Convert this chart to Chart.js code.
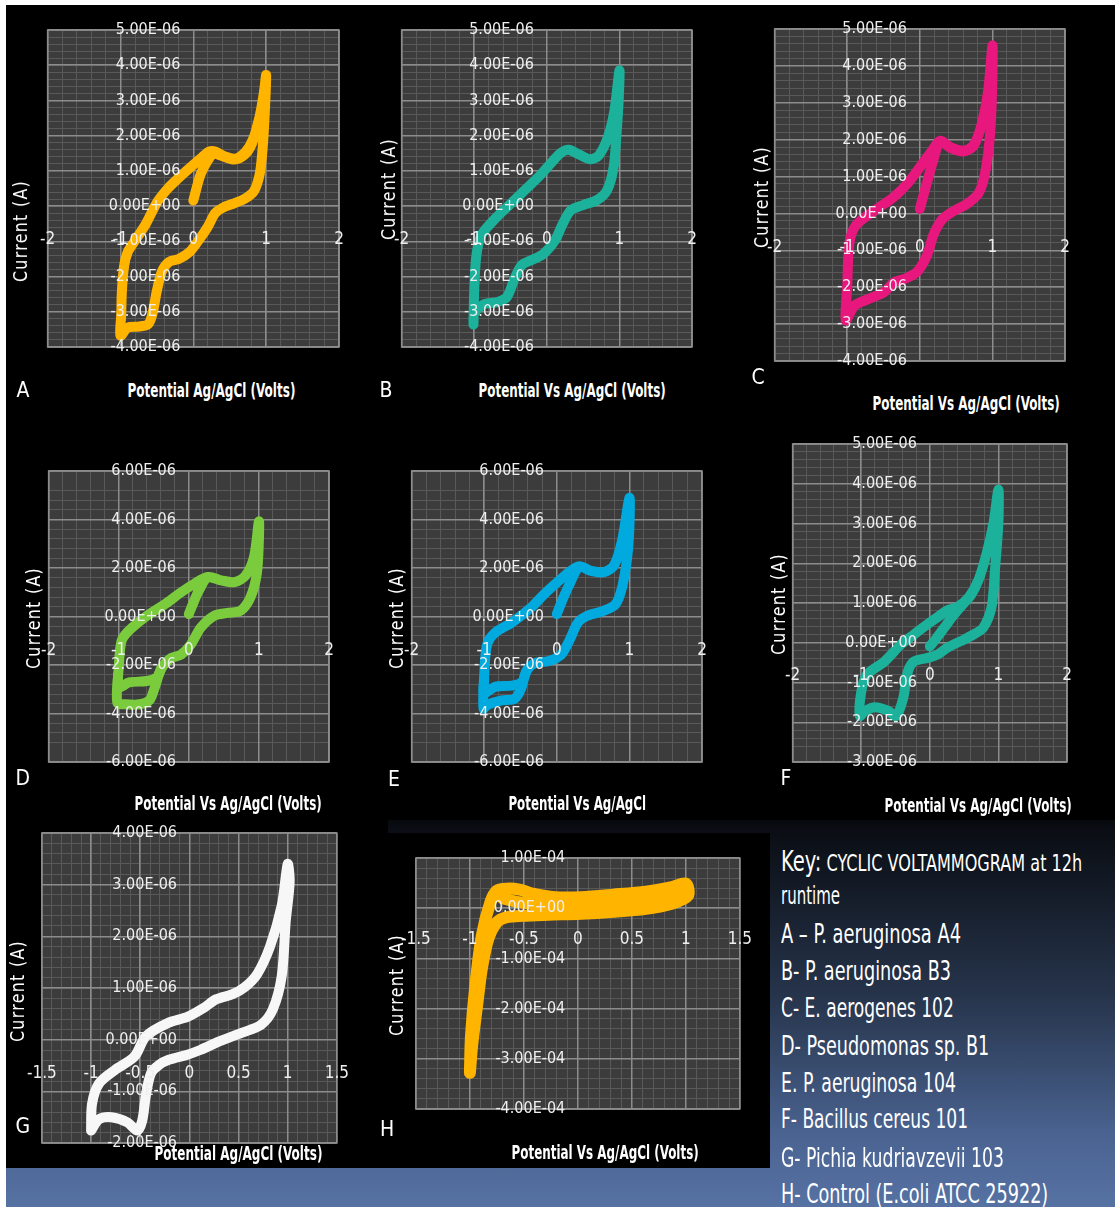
<!DOCTYPE html>
<html>
<head>
<meta charset="utf-8">
<title>Cyclic voltammograms</title>
<script src="https://cdn.jsdelivr.net/npm/chart.js@4.4.1/dist/chart.umd.min.js"></script>
<style>
  html, body { margin: 0; padding: 0; }
  body {
    width: 1115px; height: 1207px; position: relative; overflow: hidden; background: #fff;
    font-family: 'Liberation Sans Narrow', 'DejaVu Sans Condensed', 'Open Sans', sans-serif;
    color: #fff;
  }
  #slide {
    position: absolute; left: 6px; top: 5px; width: 1109px; height: 1202px;
    background: linear-gradient(to bottom, #000 0px, #000 790px, #0a0d13 825px, #26344b 990px, #4a6391 1130px, #5672a3 1202px);
  }
  .blk { position: absolute; background: #000; }
  canvas { position: absolute; }
  .lbl { position: absolute; white-space: nowrap; line-height: 1; color: #fff; }
</style>
</head>
<body>
<div id="slide"></div>
<div class="blk" style="left:6px;top:5px;width:1109px;height:815px"></div>
<div class="blk" style="left:6px;top:820px;width:382px;height:348px"></div>
<div class="blk" style="left:388px;top:833px;width:382px;height:335px"></div>

<script>
// ---- current readings (µA) against potential (V vs Ag/AgCl) ----
const A_X = [0.00, 0.10, 0.20, 0.28, 0.40, 0.56, 0.70, 0.80, 0.88, 0.95, 1.00, 0.98, 0.95, 0.91, 0.83, 0.70, 0.56, 0.40, 0.30, 0.20, 0.08, -0.05, -0.20, -0.33, -0.43, -0.50, -0.56, -0.62, -0.75, -0.90, -1.00, -0.99, -0.98, -0.95, -0.90, -0.80, -0.65, -0.50, -0.35, -0.20, -0.05, 0.10, 0.22, 0.30, 0.42, 0.58, 0.72, 0.82, 0.90, 0.96, 1.00];
const A_Y = [0.16, 0.90, 1.30, 1.48, 1.42, 1.32, 1.45, 1.75, 2.30, 2.90, 3.72, 2.60, 1.60, 0.90, 0.42, 0.20, 0.08, -0.05, -0.20, -0.58, -0.95, -1.30, -1.50, -1.58, -1.85, -2.40, -3.05, -3.35, -3.42, -3.45, -3.68, -3.10, -2.40, -1.70, -1.30, -0.98, -0.50, 0.10, 0.50, 0.80, 1.08, 1.35, 1.55, 1.55, 1.42, 1.35, 1.55, 1.90, 2.45, 3.10, 3.72];

const B_X = [-1.01, -1.00, -0.97, -0.90, -0.70, -0.46, -0.28, -0.09, 0.07, 0.20, 0.30, 0.45, 0.60, 0.72, 0.84, 0.93, 1.00, 0.99, 0.96, 0.92, 0.83, 0.69, 0.50, 0.33, 0.22, 0.11, -0.05, -0.23, -0.34, -0.44, -0.55, -0.69, -0.87, -1.00, -1.01];
const B_Y = [-3.36, -2.40, -1.40, -0.82, -0.33, 0.14, 0.50, 0.88, 1.25, 1.52, 1.60, 1.46, 1.33, 1.45, 1.95, 2.70, 3.85, 3.00, 2.05, 1.10, 0.45, 0.17, 0.03, -0.12, -0.50, -0.98, -1.36, -1.55, -1.66, -2.03, -2.58, -2.73, -2.79, -3.05, -3.36];

const C_X = [0.00, 0.08, 0.18, 0.28, 0.42, 0.60, 0.74, 0.85, 0.94, 1.00, 1.00, 0.97, 0.90, 0.81, 0.65, 0.47, 0.31, 0.19, 0.10, -0.04, -0.22, -0.36, -0.49, -0.72, -0.90, -1.02, -1.00, -0.97, -0.88, -0.63, -0.36, -0.17, 0.01, 0.15, 0.28, 0.42, 0.60, 0.74, 0.85, 0.95, 1.00];
const C_Y = [0.12, 0.70, 1.40, 1.95, 1.78, 1.68, 1.83, 2.40, 3.30, 4.55, 3.60, 2.20, 1.10, 0.55, 0.26, 0.07, -0.16, -0.57, -1.13, -1.59, -1.78, -1.87, -2.13, -2.33, -2.50, -2.90, -2.00, -0.80, -0.32, 0.07, 0.44, 0.81, 1.28, 1.65, 1.97, 1.80, 1.70, 1.85, 2.40, 3.40, 4.55];

const D_X = [0.00, 0.07, 0.14, 0.27, 0.46, 0.65, 0.81, 0.93, 1.00, 1.00, 0.97, 0.88, 0.74, 0.55, 0.36, 0.17, 0.03, -0.11, -0.25, -0.39, -0.49, -0.56, -0.70, -0.90, -1.02, -1.00, -0.96, -0.86, -0.63, -0.34, -0.11, 0.08, 0.27, 0.46, 0.65, 0.81, 0.93, 1.00];
const D_Y = [0.10, 0.60, 1.05, 1.62, 1.49, 1.42, 1.69, 2.46, 3.92, 3.15, 1.76, 0.79, 0.24, 0.15, 0.03, -0.46, -1.15, -1.57, -1.71, -2.13, -2.96, -3.45, -3.62, -3.62, -3.55, -2.13, -1.01, -0.60, -0.04, 0.51, 1.00, 1.35, 1.63, 1.49, 1.42, 1.69, 2.46, 3.92];
const D2_X = [-0.39, -0.46, -0.60, -0.85, -1.00, -1.01];
const D2_Y = [-2.13, -2.52, -2.66, -2.72, -2.92, -2.40];

const E_X = [0.00, 0.08, 0.17, 0.31, 0.47, 0.65, 0.79, 0.90, 1.00, 1.00, 0.97, 0.90, 0.81, 0.65, 0.42, 0.29, 0.17, 0.06, -0.12, -0.30, -0.42, -0.49, -0.58, -0.76, -0.96, -1.01, -1.00, -0.96, -0.85, -0.62, -0.35, -0.17, 0.01, 0.17, 0.31, 0.47, 0.65, 0.79, 0.90, 1.00];
const E_Y = [0.10, 0.70, 1.30, 2.05, 1.88, 1.83, 2.11, 3.15, 4.89, 3.71, 2.46, 1.21, 0.51, 0.24, 0.03, -0.25, -1.01, -1.57, -1.85, -1.92, -2.26, -2.96, -3.39, -3.46, -3.65, -3.79, -2.40, -1.15, -0.67, -0.25, 0.38, 0.93, 1.42, 1.83, 2.07, 1.88, 1.83, 2.11, 3.15, 4.89];
const E2_X = [-0.42, -0.48, -0.62, -0.85, -1.00, -1.00];
const E2_Y = [-2.26, -2.70, -2.85, -2.90, -3.15, -2.60];

const F_X = [0.00, 0.10, 0.22, 0.35, 0.50, 0.60, 0.71, 0.83, 0.93, 1.00, 1.00, 0.95, 0.90, 0.78, 0.64, 0.45, 0.25, 0.11, -0.03, -0.23, -0.32, -0.39, -0.49, -0.61, -0.80, -0.94, -1.02, -1.00, -0.92, -0.66, -0.42, -0.23, -0.03, 0.11, 0.25, 0.40, 0.57, 0.71, 0.83, 0.93, 1.00];
const F_Y = [-0.09, 0.12, 0.40, 0.70, 1.00, 1.20, 1.58, 2.26, 3.03, 3.85, 3.03, 1.84, 0.90, 0.38, 0.21, 0.04, -0.13, -0.30, -0.38, -0.47, -0.73, -1.41, -1.84, -1.71, -1.62, -1.71, -1.84, -1.24, -0.81, -0.47, -0.04, 0.21, 0.47, 0.64, 0.81, 0.90, 1.15, 1.58, 2.26, 3.03, 3.85];

const G_X = [-1.00, -0.99, -0.92, -0.76, -0.56, -0.44, -0.21, -0.02, 0.15, 0.27, 0.44, 0.56, 0.69, 0.82, 0.94, 1.00, 1.02, 0.98, 0.94, 0.85, 0.73, 0.53, 0.31, 0.11, -0.02, -0.21, -0.31, -0.39, -0.44, -0.48, -0.53, -0.63, -0.79, -0.92, -1.00];
const G_Y = [-1.76, -1.24, -0.85, -0.59, -0.33, 0.07, 0.33, 0.44, 0.62, 0.78, 0.88, 1.01, 1.27, 1.80, 2.60, 3.40, 3.05, 2.29, 1.24, 0.59, 0.29, 0.13, -0.03, -0.20, -0.29, -0.39, -0.49, -0.65, -1.05, -1.57, -1.76, -1.60, -1.50, -1.54, -1.76];

const H_X = [-1.00, -0.99, -0.95, -0.89, -0.81, -0.75, -0.66, -0.54, -0.42, -0.21, 0.03, 0.33, 0.63, 0.87, 1.00, 1.02, 0.87, 0.63, 0.33, 0.03, -0.27, -0.51, -0.66, -0.75, -0.83, -0.89, -0.93, -0.98, -1.00];
const H_Y = [-328, -255, -155, -55, 12, 35, 39, 37, 29, 22, 22, 27, 33, 42, 49, 25, 9, -1, -7, -11, -13, -15, -18, -28, -61, -121, -188, -275, -328];
const H2_X = [-0.70, -0.55, -0.30, 0.00, 0.40, 0.80, 1.00];
const H2_Y = [20, 12, 6, 6, 10, 18, 30];

const MICRO = 1e-6; // readings above are in µA; axes are in A

const KEY_TITLE = 'CYCLIC VOLTAMMOGRAM at 12h';
const KEY_ITEMS = [
  'A – P. aeruginosa A4',
  'B- P. aeruginosa B3',
  'C- E. aerogenes 102',
  'D- Pseudomonas sp. B1',
  'E. P. aeruginosa 104',
  'F- Bacillus cereus 101',
  'G- Pichia kudriavzevii 103',
  'H- Control (E.coli ATCC 25922)'
];

// ---- drawing ----
const FONT = "'Liberation Sans Narrow', 'DejaVu Sans Condensed', 'Open Sans', sans-serif";
const PLOT_BG = '#3c3c3c', MINOR = '#595959', MAJOR = '#8c8c8c';
const PAD = 30;
const Y_LABEL_GAP = 13; // px between the y tick labels and the zero-volt line

function sci(v) {
  if (Math.abs(v) < 1e-15) return '0.00E+00';
  const [m, e] = v.toExponential(2).split('e');
  const n = parseInt(e, 10);
  return m + 'E' + (n < 0 ? '-' : '+') + String(Math.abs(n)).padStart(2, '0');
}

const plotFrame = {
  id: 'plotFrame',
  beforeDraw(chart) {
    const { ctx, chartArea: a } = chart;
    ctx.save();
    ctx.fillStyle = PLOT_BG;
    ctx.fillRect(a.left, a.top, a.width, a.height);
    ctx.restore();
  },
  beforeDatasetsDraw(chart) {
    const { ctx, chartArea: a } = chart;
    ctx.save();
    ctx.strokeStyle = MAJOR;
    ctx.lineWidth = 1.5;
    ctx.strokeRect(a.left, a.top, a.width, a.height);
    ctx.restore();
  }
};

function panel(p) {
  const [l, t, r, b] = p.box;
  const c = document.createElement('canvas');
  c.width = r - l + 2 * PAD;
  c.height = b - t + 2 * PAD;
  c.style.left = (l - PAD) + 'px';
  c.style.top = (t - PAD) + 'px';
  document.body.appendChild(c);

  const [xmin, xmax, xstep, xminor] = p.x;
  const [ymin, ymax, ystep, yminor] = p.y;
  // y labels sit just left of the zero-volt line
  const yAxisAt = -Y_LABEL_GAP * (xmax - xmin) / (r - l);

  new Chart(c, {
    type: 'scatter',
    data: {
      datasets: p.series.map(([xs, ys]) => ({
        data: xs.map((x, i) => ({ x, y: ys[i] * MICRO })),
        showLine: true,
        borderColor: p.color,
        borderWidth: p.lw,
        pointRadius: 0,
        tension: 0.3,
        borderCapStyle: 'round',
        borderJoinStyle: 'round',
        fill: false
      }))
    },
    options: {
      responsive: false,
      animation: false,
      devicePixelRatio: 1,
      layout: { padding: PAD },
      plugins: { legend: { display: false }, tooltip: { enabled: false } },
      scales: {
        xm: {
          type: 'linear', axis: 'x', min: xmin, max: xmax, position: { y: 0 },
          ticks: { display: false, stepSize: xminor },
          grid: { color: MINOR, lineWidth: 1, drawTicks: false },
          border: { display: false }
        },
        ym: {
          type: 'linear', axis: 'y', min: ymin, max: ymax, position: { x: 0 },
          ticks: { display: false, stepSize: yminor },
          grid: { color: MINOR, lineWidth: 1, drawTicks: false },
          border: { display: false }
        },
        x: {
          type: 'linear', min: xmin, max: xmax, position: { y: 0 },
          ticks: {
            stepSize: xstep, padding: p.xpad, color: '#efefef', font: { family: FONT, size: 17 },
            maxRotation: 0, autoSkip: false, z: 1,
            callback: v => String(Math.round(v * 10) / 10)
          },
          grid: { color: MAJOR, lineWidth: 1.5, drawTicks: false },
          border: { display: false }
        },
        y: {
          type: 'linear', min: ymin, max: ymax, position: { x: yAxisAt },
          ticks: {
            stepSize: ystep, padding: 0, color: '#efefef', font: { family: FONT, size: 16 },
            autoSkip: false, z: 1, callback: v => sci(v)
          },
          grid: { color: MAJOR, lineWidth: 1.5, drawTicks: false },
          border: { display: false }
        }
      }
    },
    plugins: [plotFrame]
  });
}

const PANELS = [
  { box: [47, 30, 339, 347],  x: [-2, 2, 1, 0.2],       y: [-4e-6, 5e-6, 1e-6, 2e-7], color: '#ffb400', lw: 10, xpad: 23, series: [[A_X, A_Y]] },
  { box: [401, 30, 692, 347], x: [-2, 2, 1, 0.2],       y: [-4e-6, 5e-6, 1e-6, 2e-7], color: '#1bb19b', lw: 10, xpad: 23, series: [[B_X, B_Y]] },
  { box: [773, 29, 1065, 361], x: [-2, 2, 1, 0.2],      y: [-4e-6, 5e-6, 1e-6, 2e-7], color: '#e8177d', lw: 10, xpad: 24, series: [[C_X, C_Y]] },
  { box: [47, 471, 329, 762], x: [-2, 2, 1, 0.2],       y: [-6e-6, 6e-6, 2e-6, 4e-7], color: '#7acc3d', lw: 10, xpad: 24, series: [[D_X, D_Y], [D2_X, D2_Y]] },
  { box: [410, 471, 702, 762], x: [-2, 2, 1, 0.2],      y: [-6e-6, 6e-6, 2e-6, 4e-7], color: '#00aadf', lw: 10, xpad: 24, series: [[E_X, E_Y], [E2_X, E2_Y]] },
  { box: [792, 444, 1067, 762], x: [-2, 2, 1, 0.2],     y: [-3e-6, 5e-6, 1e-6, 2e-7], color: '#1bb19b', lw: 10, xpad: 23, series: [[F_X, F_Y]] },
  { box: [33, 833, 343, 1143], x: [-1.5, 1.5, 0.5, 0.1], y: [-2e-6, 4e-6, 1e-6, 2e-7], color: '#f7f7f7', lw: 10, xpad: 24, series: [[G_X, G_Y]] },
  { box: [410, 858, 743, 1109], x: [-1.5, 1.5, 0.5, 0.1], y: [-4e-4, 1e-4, 1e-4, 2e-5], color: '#ffb400', lw: 12, xpad: 21, series: [[H_X, H_Y], [H2_X, H2_Y]] }
];
PANELS.forEach(panel);

// ---- titles, panel letters and key ----
function label(str, x, y, size, o = {}) {
  const d = document.createElement('div');
  d.className = 'lbl';
  d.style.fontSize = size + 'px';
  if (o.bold) d.style.fontWeight = '700';
  if (o.spacing) d.style.letterSpacing = o.spacing + 'px';
  if (o.html) d.innerHTML = str; else d.textContent = str;
  document.body.appendChild(d);
  const w = d.offsetWidth, h = d.offsetHeight;
  const sx = o.width ? o.width / w : 1;
  if (o.align === 'left') {
    d.style.left = x + 'px';
    d.style.top = (y - h / 2) + 'px';
    d.style.transformOrigin = '0 50%';
    d.style.transform = 'scaleX(' + sx + ')';
  } else {
    d.style.left = (x - w / 2) + 'px';
    d.style.top = (y - h / 2) + 'px';
    d.style.transform = (o.rot ? 'rotate(-90deg) ' : '') + 'scaleX(' + sx + ')';
  }
}

const Y_TITLE = 'Current (A)';
[[20, 231], [388, 189], [761, 197], [33, 618], [396, 618], [778, 604], [17, 991], [396, 985]]
  .forEach(([x, y]) => label(Y_TITLE, x, y, 20, { rot: true, spacing: 1.5, width: 102 }));

const X_TITLE_1 = 'Potential Ag/AgCl (Volts)';
const X_TITLE_2 = 'Potential Vs Ag/AgCl (Volts)';
const X_TITLE_3 = 'Potential Vs Ag/AgCl';
[[X_TITLE_1, 211, 390, 168], [X_TITLE_2, 572, 390, 187], [X_TITLE_2, 966, 403, 187],
 [X_TITLE_2, 228, 803, 187], [X_TITLE_3, 577, 803, 138], [X_TITLE_2, 978, 805, 187],
 [X_TITLE_1, 238, 1153, 168], [X_TITLE_2, 605, 1152, 187]]
  .forEach(([s, x, y, w]) => label(s, x, y, 19, { bold: true, width: w }));

[['A', 23, 390], ['B', 386, 390], ['C', 758, 377], ['D', 23, 778],
 ['E', 394, 779], ['F', 786, 778], ['G', 23, 1126], ['H', 387, 1129]]
  .forEach(([s, x, y]) => label(s, x, y, 21));

label('<span style="font-size:28px">Key:</span> ' + KEY_TITLE, 781, 862, 23, { html: true, align: 'left', width: 301 });
label('runtime', 781, 896, 24, { align: 'left', width: 59 });
const KEY_Y = [933, 970, 1007, 1045, 1082, 1118, 1157, 1193];
const KEY_W = [180, 170, 173, 208, 175, 187, 223, 267];
KEY_ITEMS.forEach((s, i) => label(s, 781, KEY_Y[i], 27, { align: 'left', width: KEY_W[i] }));
</script>
</body>
</html>
